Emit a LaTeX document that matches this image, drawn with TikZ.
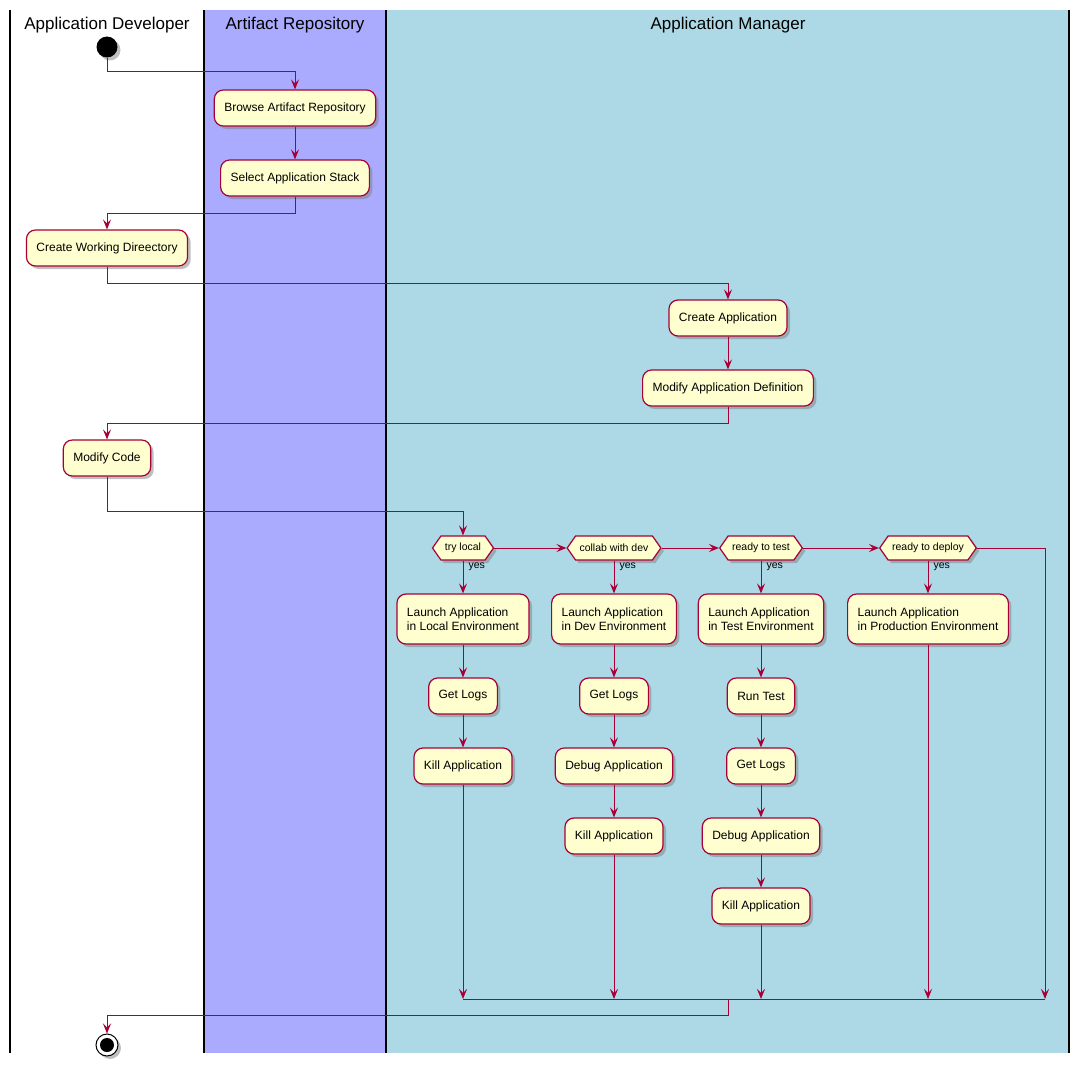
\documentclass[tikz,border=0pt]{standalone}
\usepackage{fontspec}
\setmainfont{Liberation Sans}
\usetikzlibrary{shapes.symbols,shadows,arrows.meta}
\definecolor{ln}{HTML}{A80036}
\definecolor{bx}{HTML}{FEFECE}
\definecolor{lane2}{HTML}{AAAAFF}
\definecolor{lane3}{HTML}{ADD8E6}
\begin{document}
\begin{tikzpicture}[x=1pt,y=-1pt,
  act/.style={draw=ln,line width=1.2pt,fill=bx,rounded corners=9pt,minimum height=36pt,inner xsep=10pt,font=\fontsize{12}{14}\selectfont,align=left,drop shadow={shadow xshift=3pt,shadow yshift=-3pt,fill=black!50}},
  dec/.style={draw=ln,line width=1.2pt,fill=bx,signal,signal to=east and west,signal pointer angle=110,minimum height=24pt,inner xsep=4pt,font=\fontsize{10.5}{12}\selectfont,drop shadow={shadow xshift=3pt,shadow yshift=-3pt,fill=black!50}},
  fl/.style={draw=ln,line width=1pt,-{Stealth[length=10pt,width=8pt,inset=4pt]}},
  fn/.style={draw=ln,line width=1pt},
  hd/.style={font=\fontsize{17}{20}\selectfont},
  yl/.style={font=\fontsize{10.5}{12}\selectfont,anchor=west}]
\useasboundingbox (0,0) rectangle (1080,1065);
\fill[white] (0,0) rectangle (1080,1065);
\fill[lane2] (204,10) rectangle (386,1053);
\fill[lane3] (386,10) rectangle (1069,1053);
\foreach \x in {10,204,386,1069} \draw[line width=1.5pt] (\x,10) -- (\x,1053);
\node[hd] (h1) at (107,25) {Application Developer};
\node[hd] (h2) at (295,25) {Artifact Repository};
\node[hd] (h3) at (728,25) {Application Manager};

\node[circle,fill=black,minimum size=21pt,inner sep=0,drop shadow={shadow xshift=3pt,shadow yshift=-3pt,fill=black!50}] (st) at (107,47) {};
\node[act] (a1) at (295,108) {Browse Artifact Repository};
\node[act] (a2) at (295,178) {Select Application Stack};
\node[act] (a3) at (107,248) {Create Working Direectory};
\node[act] (a4) at (728,318) {Create Application};
\node[act] (a5) at (728,388) {Modify Application Definition};
\node[act] (a6) at (107,458) {Modify Code};
\node[dec] (d1) at (463,548) {try local};
\node[dec] (d2) at (614,548) {collab with dev};
\node[dec] (d3) at (761,548) {ready to test};
\node[dec] (d4) at (928,548) {ready to deploy};
\node[act,minimum height=50pt] (l1) at (463,619) {Launch Application\\in Local Environment};
\node[act,minimum height=50pt] (l2) at (614,619) {Launch Application\\in Dev Environment};
\node[act,minimum height=50pt] (l3) at (761,619) {Launch Application\\in Test Environment};
\node[act,minimum height=50pt] (l4) at (928,619) {Launch Application\\in Production Environment};
\node[act] (g1) at (463,696) {Get Logs};
\node[act] (k1) at (463,766) {Kill Application};
\node[act] (g2) at (614,696) {Get Logs};
\node[act] (b2) at (614,766) {Debug Application};
\node[act] (k2) at (614,836) {Kill Application};
\node[act] (r3) at (761,696) {Run Test};
\node[act] (g3) at (761,766) {Get Logs};
\node[act] (b3) at (761,836) {Debug Application};
\node[act] (k3) at (761,906) {Kill Application};
\node[circle,draw=black,fill=white,minimum size=22pt,inner sep=0,line width=1pt,drop shadow={shadow xshift=3pt,shadow yshift=-3pt,fill=black!50}] (en) at (107,1045) {};
\node[circle,fill=black,minimum size=14pt,inner sep=0] (enc) at (en) {};

\coordinate (m1) at (463,999);
\coordinate (m5) at (1045,999);
\coordinate (mc) at (728,999);
\coordinate (rr) at (1045,548);

\draw[fl] (st.south) |- (295,72) -- (a1.north);
\draw[fl] (a1) -- (a2);
\draw[fl] (a2.south) |- (107,213) -- (a3.north);
\draw[fl] (a3.south) |- (728,283) -- (a4.north);
\draw[fl] (a4) -- (a5);
\draw[fl] (a5.south) |- (107,423) -- (a6.north);
\draw[fl] (a6.south) |- (463,511) -- (d1.north);
\draw[fl] (d1.east) -- (d2.west);
\draw[fl] (d2.east) -- (d3.west);
\draw[fl] (d3.east) -- (d4.west);
\draw[fn] (d4.east) -- (rr);
\draw[fl] (rr) -- (m5);
\foreach \d/\l in {d1/l1,d2/l2,d3/l3,d4/l4} \draw[fl] (\d.south) -- (\l.north);
\node[yl] (y1) at (465,567) {yes};
\node[yl] (y2) at (616,567) {yes};
\node[yl] (y3) at (763,567) {yes};
\node[yl] (y4) at (930,567) {yes};
\draw[fl] (l1) -- (g1); \draw[fl] (g1) -- (k1);
\draw[fl] (l2) -- (g2); \draw[fl] (g2) -- (b2); \draw[fl] (b2) -- (k2);
\draw[fl] (l3) -- (r3); \draw[fl] (r3) -- (g3); \draw[fl] (g3) -- (b3); \draw[fl] (b3) -- (k3);
\draw[fl] (k1.south) -- (k1.south |- m1);
\draw[fl] (k2.south) -- (k2.south |- m1);
\draw[fl] (k3.south) -- (k3.south |- m1);
\draw[fl] (l4.south) -- (l4.south |- m1);
\draw[fn] (m1) -- (m5);
\draw[fl] (mc) -- (728,1015) -| (en.north);
\end{tikzpicture}
\end{document}
